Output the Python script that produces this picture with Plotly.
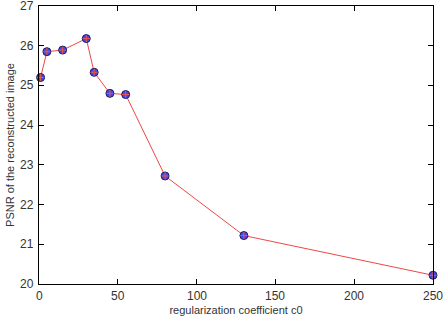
import plotly.graph_objects as go

c0 = [1, 5, 15, 30, 35, 45, 55, 80, 130, 250]
psnr = [25.20, 25.85, 25.89, 26.18, 25.33, 24.80, 24.77, 22.72, 21.22, 20.22]

x_ticks = [0, 50, 100, 150, 200, 250]
y_ticks = [20, 21, 22, 23, 24, 25, 26, 27]

FONT = "Liberation Sans, Arial"
fig = go.Figure()
fig.add_trace(go.Scatter(
    x=c0, y=psnr, mode="lines+markers",
    line=dict(color="rgb(240,70,70)", width=1),
    marker=dict(symbol="circle", size=8, color="rgb(70,70,240)",
                line=dict(color="rgb(30,30,90)", width=1)),
    cliponaxis=False, showlegend=False))
fig.add_trace(go.Scatter(
    x=c0, y=psnr, mode="markers",
    marker=dict(symbol="cross-thin-open", size=5,
                line=dict(color="rgb(10,10,80)", width=1)),
    cliponaxis=False, showlegend=False))

axis_common = dict(
    showgrid=False, zeroline=False, showline=True, linecolor="black",
    linewidth=1, mirror="ticks", ticks="inside", ticklen=5,
    tickcolor="black", automargin=False, showticklabels=False,
)
fig.update_xaxes(range=[0, 250], tickvals=x_ticks, **axis_common,
                 title=dict(text="regularization coefficient c0", standoff=23,
                            font=dict(family=FONT, size=11, color="#333")))
fig.update_yaxes(range=[20, 27], tickvals=y_ticks, **axis_common,
                 title=dict(text="PSNR of the reconstructed image", standoff=21,
                            font=dict(family=FONT, size=11, color="#333")))

for v in x_ticks:
    fig.add_annotation(x=v, y=0, xref="x", yref="paper", text=str(v),
                       showarrow=False, yanchor="top", xanchor="center", yshift=-3,
                       font=dict(family=FONT, size=12, color="#333"))
for v in y_ticks:
    fig.add_annotation(x=0, y=v, xref="paper", yref="y", text=str(v),
                       showarrow=False, xanchor="right", yanchor="middle", xshift=-3,
                       font=dict(family=FONT, size=12, color="#333"))

fig.update_layout(
    width=443, height=316,
    margin=dict(l=39, r=10, t=6, b=32),
    plot_bgcolor="white", paper_bgcolor="white",
)
fig.write_html("out.html")
